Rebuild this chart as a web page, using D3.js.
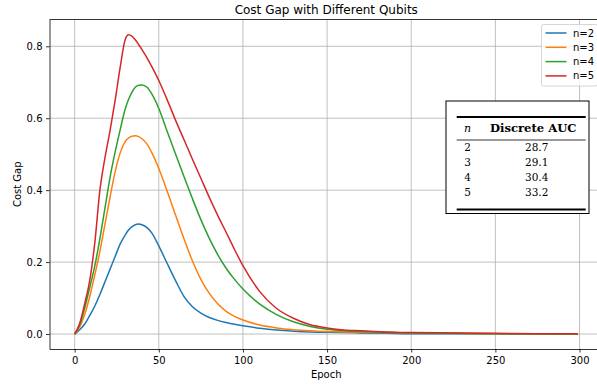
<!DOCTYPE html>
<html>
<head>
<meta charset="utf-8">
<script src="https://cdn.jsdelivr.net/npm/d3@7"></script>
<style>
  body { margin: 0; background: #fff; }
  svg { display: block; font-family: "DejaVu Sans", sans-serif; }
</style>
</head>
<body>
<script>
// sampled epochs shared by every series
var epochs = [0, 3, 6, 9, 12, 15, 18, 21, 24, 27, 30, 32, 34, 36, 38, 40, 43, 46, 50, 55,
              60, 65, 70, 75, 80, 85, 90, 95, 100, 110, 120, 130, 140, 150, 160, 170, 185, 200,
              225, 250, 275, 299];

// cost gap per qubit count
var gapN2 = [0, 0.012, 0.028, 0.052, 0.078, 0.11, 0.145, 0.18, 0.215, 0.25, 0.275, 0.289, 0.298, 0.304, 0.306, 0.304, 0.296, 0.28, 0.245, 0.196,
             0.148, 0.104, 0.076, 0.058, 0.046, 0.038, 0.032, 0.027, 0.023, 0.016, 0.011, 0.008, 0.006, 0.005, 0.004, 0.003, 0.002, 0.001,
             0.001, 0.0005, 0, 0];
var gapN3 = [0, 0.02, 0.055, 0.105, 0.165, 0.23, 0.305, 0.38, 0.45, 0.503, 0.535, 0.545, 0.55, 0.551, 0.549, 0.543, 0.528, 0.503, 0.46, 0.397,
             0.33, 0.264, 0.203, 0.152, 0.113, 0.084, 0.063, 0.049, 0.039, 0.025, 0.017, 0.012, 0.009, 0.007, 0.006, 0.005, 0.004, 0.003,
             0.002, 0.001, 0.0005, 0];
var gapN4 = [0, 0.025, 0.073, 0.13, 0.19, 0.265, 0.35, 0.435, 0.505, 0.567, 0.625, 0.652, 0.672, 0.686, 0.692, 0.6925, 0.686, 0.666, 0.627, 0.563,
             0.5, 0.437, 0.376, 0.318, 0.266, 0.221, 0.183, 0.152, 0.125, 0.083, 0.054, 0.034, 0.021, 0.013, 0.009, 0.007, 0.005, 0.003,
             0.002, 0.001, 0.0005, 0];
var gapN5 = [0, 0.03, 0.085, 0.15, 0.255, 0.4, 0.49, 0.565, 0.648, 0.74, 0.818, 0.832, 0.828, 0.818, 0.805, 0.791, 0.768, 0.742, 0.705, 0.651,
             0.594, 0.54, 0.486, 0.433, 0.38, 0.33, 0.283, 0.235, 0.19, 0.118, 0.071, 0.044, 0.026, 0.017, 0.011, 0.009, 0.006, 0.004,
             0.003, 0.002, 0.001, 0.001];

var seriesNames = ["n=2", "n=3", "n=4", "n=5"];
var seriesValues = [gapN2, gapN3, gapN4, gapN5];
var colors = ["#1f77b4", "#ff7f0e", "#2ca02c", "#d62728"];

// table contents
var tableN = ["2", "3", "4", "5"];
var tableAUC = ["28.7", "29.1", "30.4", "33.2"];

var xTicks = [0, 50, 100, 150, 200, 250, 300];
var yTicks = [0, 0.2, 0.4, 0.6, 0.8];

// figure geometry
var W = 597, H = 385;
var margin = {top: 19.5, left: 49.5, bottom: 36, right: -6};
var width = W - margin.left - margin.right,
    height = H - margin.top - margin.bottom;

var x = d3.scaleLinear().domain([-14.95, 313.95]).range([0, width]);
var y = d3.scaleLinear().domain([-0.0416, 0.8745]).range([height, 0]);

var svg = d3.select("body").append("svg")
    .attr("width", W)
    .attr("height", H);

var g = svg.append("g")
    .attr("transform", "translate(" + margin.left + "," + margin.top + ")");

// grid
g.append("g").selectAll("line")
    .data(xTicks)
  .enter().append("line")
    .attr("x1", function(d) { return x(d); })
    .attr("x2", function(d) { return x(d); })
    .attr("y1", 0).attr("y2", height)
    .attr("stroke", "#b0b0b0").attr("stroke-width", 0.8);
g.append("g").selectAll("line")
    .data(yTicks)
  .enter().append("line")
    .attr("y1", function(d) { return y(d); })
    .attr("y2", function(d) { return y(d); })
    .attr("x1", 0).attr("x2", width)
    .attr("stroke", "#b0b0b0").attr("stroke-width", 0.8);

// curves
var line = d3.line()
    .x(function(d) { return x(d[0]); })
    .y(function(d) { return y(d[1]); })
    .curve(d3.curveMonotoneX);

seriesValues.forEach(function(vals, i) {
  g.append("path")
      .datum(epochs.map(function(e, j) { return [e, vals[j]]; }))
      .attr("fill", "none")
      .attr("stroke", colors[i])
      .attr("stroke-width", 1.5)
      .attr("d", line);
});

// axes
var xAxis = g.append("g")
    .attr("transform", "translate(0," + height + ")")
    .call(d3.axisBottom(x).tickValues(xTicks).tickSize(3.5).tickPadding(4).tickSizeOuter(0));
var yAxis = g.append("g")
    .call(d3.axisLeft(y).tickValues(yTicks).tickFormat(d3.format(".1f")).tickSize(3.5).tickPadding(3.5).tickSizeOuter(0));
[xAxis, yAxis].forEach(function(a) {
  a.selectAll("text").attr("font-size", 10).attr("font-family", "DejaVu Sans").attr("fill", "#000");
  a.selectAll("line").attr("stroke", "#000").attr("stroke-width", 0.8);
  a.select(".domain").attr("stroke", "#000").attr("stroke-width", 0.8);
});
g.append("line")
    .attr("x1", 0).attr("x2", width).attr("y1", 0).attr("y2", 0)
    .attr("stroke", "#000").attr("stroke-width", 0.8);

// labels
svg.append("text")
    .attr("x", margin.left + width / 2).attr("y", 14)
    .attr("text-anchor", "middle").attr("font-size", 12)
    .text("Cost Gap with Different Qubits");
svg.append("text")
    .attr("x", margin.left + width / 2).attr("y", 377.5)
    .attr("text-anchor", "middle").attr("font-size", 10)
    .text("Epoch");
svg.append("text")
    .attr("transform", "translate(21," + (margin.top + height / 2) + ") rotate(-90)")
    .attr("text-anchor", "middle").attr("font-size", 10)
    .text("Cost Gap");

// legend
var legend = svg.append("g").attr("transform", "translate(541.5,24.5)");
legend.append("rect")
    .attr("width", 56).attr("height", 61.5).attr("rx", 2)
    .attr("fill", "#fff").attr("fill-opacity", 0.8)
    .attr("stroke", "#cccccc").attr("stroke-width", 0.8);
seriesNames.forEach(function(name, i) {
  var row = legend.append("g").attr("transform", "translate(0," + (8.5 + i * 14.3) + ")");
  row.append("line").attr("x1", 4).attr("x2", 25)
      .attr("stroke", colors[i]).attr("stroke-width", 1.5);
  row.append("text").attr("x", 31.5).attr("dy", "0.35em")
      .attr("font-size", 10).text(name);
});

// AUC table box
var tbl = svg.append("g").attr("transform", "translate(446,101)");
tbl.append("rect")
    .attr("width", 143).attr("height", 112.5)
    .attr("fill", "#fff").attr("stroke", "#000").attr("stroke-width", 1);
tbl.append("line").attr("x1", 10.7).attr("x2", 139.7).attr("y1", 16).attr("y2", 16)
    .attr("stroke", "#000").attr("stroke-width", 2);
tbl.append("line").attr("x1", 10.7).attr("x2", 139.7).attr("y1", 39).attr("y2", 39)
    .attr("stroke", "#000").attr("stroke-width", 0.8);
tbl.append("line").attr("x1", 10.7).attr("x2", 139.7).attr("y1", 108.5).attr("y2", 108.5)
    .attr("stroke", "#000").attr("stroke-width", 2);
tbl.append("text")
    .attr("x", 21.5).attr("y", 31.3)
    .attr("text-anchor", "middle")
    .attr("font-family", "DejaVu Serif").attr("font-style", "italic").attr("font-size", 11)
    .text("n");
tbl.append("text")
    .attr("x", 44).attr("y", 31.3)
    .attr("font-family", "DejaVu Serif").attr("font-weight", "bold").attr("font-size", 10.5)
    .attr("textLength", 86.5).attr("lengthAdjust", "spacingAndGlyphs")
    .text("Discrete AUC");
tableN.forEach(function(n, i) {
  tbl.append("text")
      .attr("x", 21.5).attr("y", 49.7 + i * 15)
      .attr("text-anchor", "middle")
      .attr("font-family", "DejaVu Serif").attr("font-size", 10.5)
      .text(n);
  tbl.append("text")
      .attr("x", 90.7).attr("y", 49.7 + i * 15)
      .attr("text-anchor", "middle")
      .attr("font-family", "DejaVu Serif").attr("font-size", 10.5)
      .text(tableAUC[i]);
});
</script>
</body>
</html>
